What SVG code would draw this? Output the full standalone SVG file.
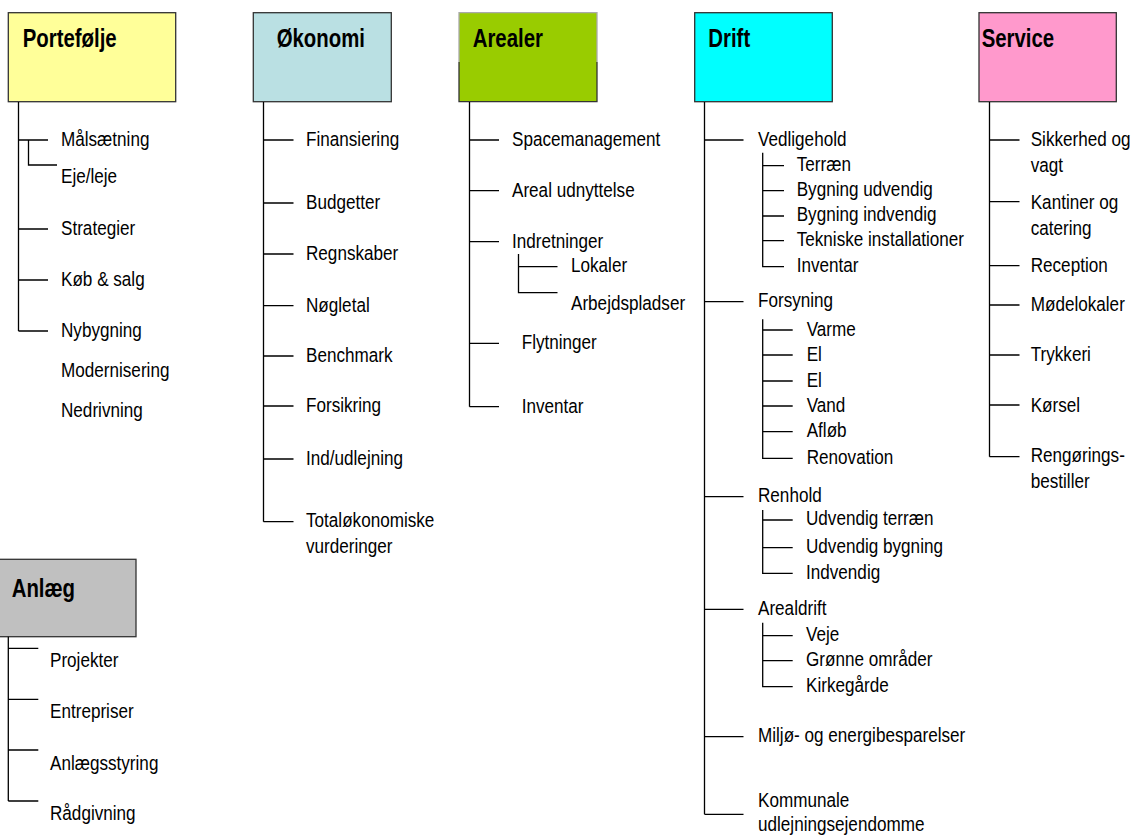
<svg xmlns="http://www.w3.org/2000/svg" width="1135" height="836" viewBox="0 0 1135 836">
<style>
.t{font-family:"Liberation Sans",Arial,sans-serif;font-size:20.5px;fill:#000}
.h{font-family:"Liberation Sans",Arial,sans-serif;font-size:25px;font-weight:bold;fill:#000}
.box{stroke:#333;stroke-width:1.3}
.c{fill:none;stroke:#000;stroke-width:1.3}
</style>
<rect width="1135" height="836" fill="#fff"/>

<g id="portefolje">
<rect class="box" x="8.3" y="12.7" width="167.4" height="89" fill="#FFFF99"/>
<text class="h" transform="translate(22.7 47.3) scale(.815 1)">Portefølje</text>
</g>
<g id="okonomi">
<rect class="box" x="253.3" y="12.7" width="138" height="89" fill="#BAE0E3"/>
<text class="h" transform="translate(276.7 47.3) scale(.815 1)">Økonomi</text>
</g>
<g id="arealer">
<rect x="459" y="12.7" width="138" height="89" fill="#99CC00"/>
<path d="M459 62V12.7H597V62" fill="none" stroke="#aaa" stroke-width="1.3"/>
<path d="M459 62V101.7H597V62" fill="none" stroke="#333" stroke-width="1.3"/>
<text class="h" transform="translate(472.7 47.3) scale(.815 1)">Arealer</text>
</g>
<g id="drift">
<rect class="box" x="694.7" y="12.7" width="137.6" height="89" fill="#00FFFF"/>
<text class="h" transform="translate(708.3 47.3) scale(.815 1)">Drift</text>
</g>
<g id="service">
<rect class="box" x="979" y="12.7" width="137.3" height="89" fill="#FF99CC"/>
<text class="h" transform="translate(981.7 47.3) scale(.815 1)">Service</text>
</g>
<g id="anlaeg">
<rect class="box" x="-2" y="559.3" width="138" height="77.4" fill="#C0C0C0"/>
<text class="h" transform="translate(11.7 596.5) scale(.815 1)">Anlæg</text>
</g>

<g id="connectors">
<path class="c" d="M18.5 102V331M18.5 140H48M28.5 140V165H57M18.5 229H48M18.5 280H48M18.5 331H48"/>
<path class="c" d="M263.5 102V521.7M263.5 140H293.5M263.5 203H293.5M263.5 254H293.5M263.5 305.7H293.5M263.5 356H293.5M263.5 406H293.5M263.5 459H293.5M263.5 521.7H293.5"/>
<path class="c" d="M469.5 102V406.7M469.5 140H499M469.5 190.7H499M469.5 241.7H499M469.5 343.3H499M469.5 406.7H499M518.5 254V292.7H557.5M518.5 266.7H557.5"/>
<path class="c" d="M704.5 102V814.3M704.5 140H743.5M704.5 301.7H743.5M704.5 496.7H743.5M704.5 609.3H743.5M704.5 736.7H743.5M704.5 814.3H743.5"/>
<path class="c" d="M762.7 152.7V266.7H784M762.7 165.7H784M762.7 190.7H784M762.7 216H784M762.7 240.7H784"/>
<path class="c" d="M762.7 319.3V458.3H792.7M762.7 330H792.7M762.7 355H792.7M762.7 381H792.7M762.7 406H792.7M762.7 431.7H792.7"/>
<path class="c" d="M762.7 510V573.3H792.7M762.7 520H792.7M762.7 547.7H792.7"/>
<path class="c" d="M762.7 622.7V686.7H792.7M762.7 635.7H792.7M762.7 660.7H792.7"/>
<path class="c" d="M989.5 102V456.7M989.5 140H1019.5M989.5 201.7H1019.5M989.5 265.7H1019.5M989.5 305H1019.5M989.5 355H1019.5M989.5 405H1019.5M989.5 456.7H1019.5"/>
<path class="c" d="M8.3 636.7V801M8.3 648.3H38.3M8.3 699.3H38.3M8.3 750H38.3M8.3 801H38.3"/>
</g>

<g id="p-items">
<g id="p1"><text class="t" transform="translate(61 146) scale(.835 1)">Målsætning</text></g>
<g id="p2"><text class="t" transform="translate(61 183) scale(.835 1)">Eje/leje</text></g>
<g id="p3"><text class="t" transform="translate(61 235) scale(.835 1)">Strategier</text></g>
<g id="p4"><text class="t" transform="translate(61 286) scale(.835 1)">Køb &amp; salg</text></g>
<g id="p5"><text class="t" transform="translate(61 337) scale(.835 1)">Nybygning</text></g>
<g id="p6"><text class="t" transform="translate(61 376.5) scale(.835 1)">Modernisering</text></g>
<g id="p7"><text class="t" transform="translate(61 417) scale(.835 1)">Nedrivning</text></g>
</g>

<g id="o-items">
<g id="o1"><text class="t" transform="translate(306 146) scale(.835 1)">Finansiering</text></g>
<g id="o2"><text class="t" transform="translate(306 209) scale(.835 1)">Budgetter</text></g>
<g id="o3"><text class="t" transform="translate(306 260) scale(.835 1)">Regnskaber</text></g>
<g id="o4"><text class="t" transform="translate(306 311.5) scale(.835 1)">Nøgletal</text></g>
<g id="o5"><text class="t" transform="translate(306 362) scale(.835 1)">Benchmark</text></g>
<g id="o6"><text class="t" transform="translate(306 412) scale(.835 1)">Forsikring</text></g>
<g id="o7"><text class="t" transform="translate(306 464.5) scale(.835 1)">Ind/udlejning</text></g>
<g id="o8"><text class="t" transform="translate(306 527) scale(.835 1)">Totaløkonomiske</text><text class="t" transform="translate(306 553.3) scale(.835 1)">vurderinger</text></g>
</g>

<g id="a-items">
<g id="a1"><text class="t" transform="translate(512 145.5) scale(.835 1)">Spacemanagement</text></g>
<g id="a2"><text class="t" transform="translate(512 196.5) scale(.835 1)">Areal udnyttelse</text></g>
<g id="a3"><text class="t" transform="translate(512 247.5) scale(.835 1)">Indretninger</text></g>
<g id="a3a"><text class="t" transform="translate(571 272) scale(.835 1)">Lokaler</text></g>
<g id="a3b"><text class="t" transform="translate(571 310) scale(.835 1)">Arbejdspladser</text></g>
<g id="a4"><text class="t" transform="translate(521.7 349) scale(.835 1)">Flytninger</text></g>
<g id="a5"><text class="t" transform="translate(521.7 412.5) scale(.835 1)">Inventar</text></g>
</g>

<g id="d-items">
<g id="d1"><text class="t" transform="translate(758 145.5) scale(.835 1)">Vedligehold</text></g>
<g id="d1a"><text class="t" transform="translate(796.7 171) scale(.835 1)">Terræn</text></g>
<g id="d1b"><text class="t" transform="translate(796.7 196) scale(.835 1)">Bygning udvendig</text></g>
<g id="d1c"><text class="t" transform="translate(796.7 221.3) scale(.835 1)">Bygning indvendig</text></g>
<g id="d1d"><text class="t" transform="translate(796.7 246) scale(.835 1)">Tekniske installationer</text></g>
<g id="d1e"><text class="t" transform="translate(796.7 272) scale(.835 1)">Inventar</text></g>
<g id="d2"><text class="t" transform="translate(758 307.3) scale(.835 1)">Forsyning</text></g>
<g id="d2a"><text class="t" transform="translate(806.7 335.5) scale(.835 1)">Varme</text></g>
<g id="d2b"><text class="t" transform="translate(806.7 360.5) scale(.835 1)">El</text></g>
<g id="d2c"><text class="t" transform="translate(806.7 386.5) scale(.835 1)">El</text></g>
<g id="d2d"><text class="t" transform="translate(806.7 411.5) scale(.835 1)">Vand</text></g>
<g id="d2e"><text class="t" transform="translate(806.7 437) scale(.835 1)">Afløb</text></g>
<g id="d2f"><text class="t" transform="translate(806.7 463.5) scale(.835 1)">Renovation</text></g>
<g id="d3"><text class="t" transform="translate(758 502) scale(.835 1)">Renhold</text></g>
<g id="d3a"><text class="t" transform="translate(806 525.3) scale(.835 1)">Udvendig terræn</text></g>
<g id="d3b"><text class="t" transform="translate(806 553) scale(.835 1)">Udvendig bygning</text></g>
<g id="d3c"><text class="t" transform="translate(806 578.5) scale(.835 1)">Indvendig</text></g>
<g id="d4"><text class="t" transform="translate(758 614.8) scale(.835 1)">Arealdrift</text></g>
<g id="d4a"><text class="t" transform="translate(806 641) scale(.835 1)">Veje</text></g>
<g id="d4b"><text class="t" transform="translate(806 666) scale(.835 1)">Grønne områder</text></g>
<g id="d4c"><text class="t" transform="translate(806 692) scale(.835 1)">Kirkegårde</text></g>
<g id="d5"><text class="t" transform="translate(758 742) scale(.835 1)">Miljø- og energibesparelser</text></g>
<g id="d6"><text class="t" transform="translate(758 807) scale(.835 1)">Kommunale</text><text class="t" transform="translate(758 831) scale(.835 1)">udlejningsejendomme</text></g>
</g>

<g id="s-items">
<g id="s1"><text class="t" transform="translate(1030.7 145.5) scale(.835 1)">Sikkerhed og</text><text class="t" transform="translate(1030.7 172) scale(.835 1)">vagt</text></g>
<g id="s2"><text class="t" transform="translate(1030.7 208.5) scale(.835 1)">Kantiner og</text><text class="t" transform="translate(1030.7 235) scale(.835 1)">catering</text></g>
<g id="s3"><text class="t" transform="translate(1030.7 271.5) scale(.835 1)">Reception</text></g>
<g id="s4"><text class="t" transform="translate(1030.7 310.5) scale(.835 1)">Mødelokaler</text></g>
<g id="s5"><text class="t" transform="translate(1030.7 361) scale(.835 1)">Trykkeri</text></g>
<g id="s6"><text class="t" transform="translate(1030.7 412) scale(.835 1)">Kørsel</text></g>
<g id="s7"><text class="t" transform="translate(1030.7 461.5) scale(.835 1)">Rengørings-</text><text class="t" transform="translate(1030.7 488) scale(.835 1)">bestiller</text></g>
</g>

<g id="an-items">
<g id="an1"><text class="t" transform="translate(50 666.5) scale(.835 1)">Projekter</text></g>
<g id="an2"><text class="t" transform="translate(50 718) scale(.835 1)">Entrepriser</text></g>
<g id="an3"><text class="t" transform="translate(50 769.5) scale(.835 1)">Anlægsstyring</text></g>
<g id="an4"><text class="t" transform="translate(50 820) scale(.835 1)">Rådgivning</text></g>
</g>
</svg>
